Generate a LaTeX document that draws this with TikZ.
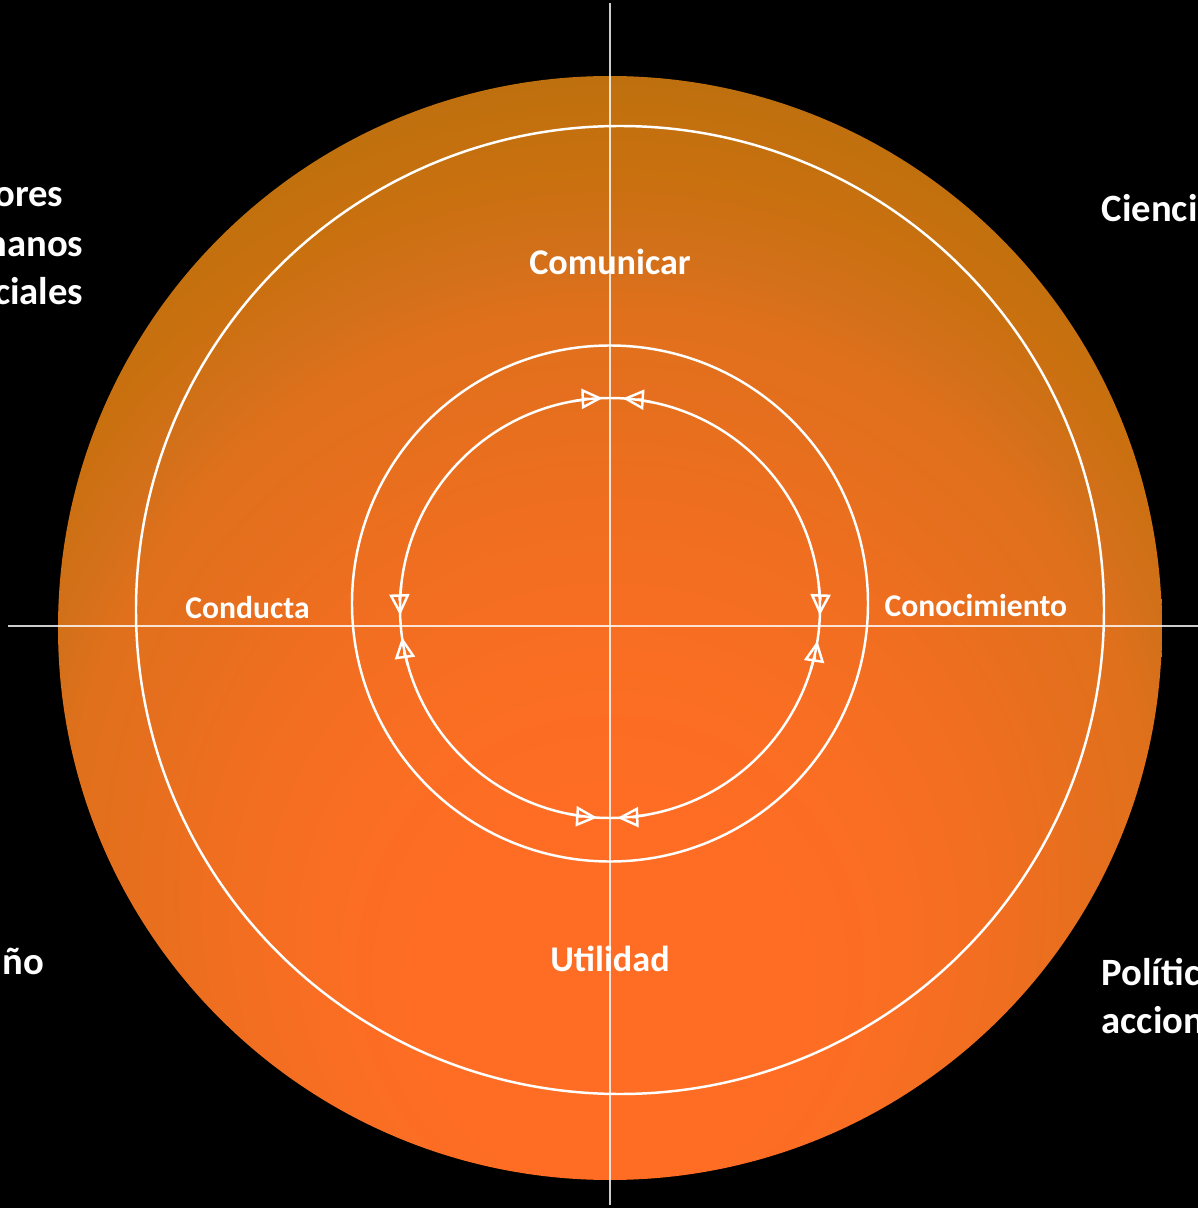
\documentclass[tikz,border=0pt]{standalone}
\usepackage{fontspec}
\setmainfont{Carlito}
\usetikzlibrary{arrows.meta}

\definecolor{sunhi}{HTML}{FF6D24}
\definecolor{sunmidA}{HTML}{F86E22}
\definecolor{sunmidB}{HTML}{F06E20}
\definecolor{sunmidC}{HTML}{E66F1E}
\definecolor{sunmidD}{HTML}{E0701C}
\definecolor{sunmidE}{HTML}{D3701A}
\definecolor{sunmidF}{HTML}{C9700F}
\definecolor{sunlo}{HTML}{BF700E}
\pgfdeclareradialshading{sunshade}{\pgfpoint{0bp}{-20bp}}{color(0bp)=(sunhi); color(9bp)=(sunhi); color(14bp)=(sunmidA); color(18bp)=(sunmidB); color(21.5bp)=(sunmidC); color(24.5bp)=(sunmidD); color(26.5bp)=(sunmidE); color(29bp)=(sunmidF); color(32bp)=(sunlo); color(50bp)=(sunlo)}

\begin{document}
\begin{tikzpicture}[scale=1,
		ring/.style={draw=white, line width=0.7pt},
		axisline/.style={draw=white, draw opacity=0.8, line width=0.45pt},
		tipline/.style={draw=white, line width=0.7pt, -{Triangle[open, length=6pt, width=5.7pt]}},
		word/.style={text=white, font=\bfseries, inner sep=0pt}]
				\clip (0.00, 0.00) rectangle (11.98, 12.08);
				\fill[black] (0.00, 0.00) rectangle (11.98, 12.08);
				\shade[shading=sunshade] (6.10, 5.80) circle (5.52);

				\draw[ring] (6.20, 5.98) circle (4.84);
				\draw[ring] (6.10, 6.045) circle (2.58);

				\coordinate (hub) at (6.10, 6.00);
				\draw[ring] (hub) circle (2.10);
				\foreach \from/\to in {100/92, 174/182, 196/188, 258.5/266.5, 280/272, 343/351, 6/-2, 78.5/86.5}
					\draw[tipline] ([shift={(\from:2.10)}]hub) arc[start angle=\from, end angle=\to, radius=2.10];

				\draw[axisline] (6.10, 0.03) -- (6.10, 12.05);
				\draw[axisline] (0.08, 5.82) -- (11.98, 5.82);

				\node[word, anchor=base, font=\bfseries\fontsize{10.3}{12}\selectfont] (txt0) at (6.10, 9.34) {Comunicar};
				\node[word, anchor=base, font=\bfseries\fontsize{10.3}{12}\selectfont] (txt1) at (6.10, 2.37) {Utilidad};
				\node[word, anchor=base, font=\bfseries\fontsize{9}{11}\selectfont] (txt2) at (2.475, 5.90) {Conducta};
				\node[word, anchor=base west, font=\bfseries\fontsize{9}{11}\selectfont] (txt3) at (8.84, 5.92) {Conocimiento};

				\node[word, anchor=base east, font=\bfseries\fontsize{11}{13}\selectfont] (txt4) at (0.64, 10.02) {ores};
				\node[word, anchor=base east, font=\bfseries\fontsize{11}{13}\selectfont] (txt5) at (0.84, 9.52) {nanos};
				\node[word, anchor=base east, font=\bfseries\fontsize{11}{13}\selectfont] (txt6) at (0.84, 9.04) {ciales};
				\node[word, anchor=base east, font=\bfseries\fontsize{11}{13}\selectfont] (txt7) at (0.45, 2.34) {ño};
				\node[word, anchor=base west, font=\bfseries\fontsize{11}{13}\selectfont] (txt8) at (11.01, 9.87) {Cienci};
				\node[word, anchor=base west, font=\bfseries\fontsize{11}{13}\selectfont] (txt9) at (11.01, 2.23) {Polític};
				\node[word, anchor=base west, font=\bfseries\fontsize{11}{13}\selectfont] (txt10) at (11.01, 1.74) {accion};
			\end{tikzpicture}
\end{document}
